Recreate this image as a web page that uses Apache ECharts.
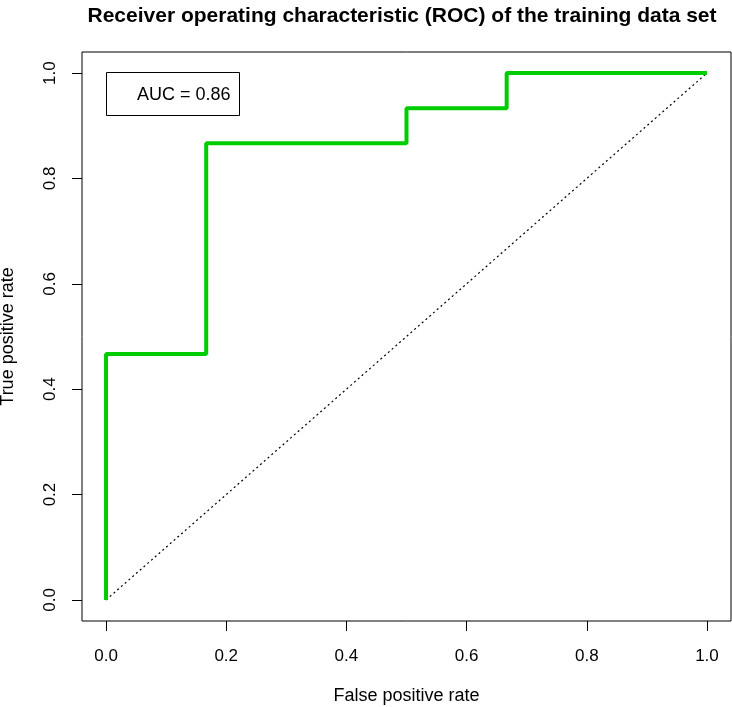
<!DOCTYPE html>
<html>
<head>
<meta charset="utf-8">
<script src="https://cdn.jsdelivr.net/npm/echarts@6/dist/echarts.min.js"></script>
<style>
  html, body { margin: 0; padding: 0; background: #fff; }
  #chart { width: 732px; height: 707px; }
</style>
</head>
<body>
<div id="chart"></div>
<script>
// ROC curve points
const fpr = [0, 0, 0.1667, 0.1667, 0.5, 0.5, 0.6667, 0.6667, 1]
const tpr = [0, 0.4667, 0.4667, 0.8667, 0.8667, 0.9333, 0.9333, 1, 1]
const diagX = [0, 1]
const diagY = [0, 1]
const xTicks = [0, 0.2, 0.4, 0.6, 0.8, 1.0]
const yTicks = [0, 0.2, 0.4, 0.6, 0.8, 1.0]
const auc = '0.86'

const font = '"Liberation Sans", Arial, sans-serif'
const chart = echarts.init(document.getElementById('chart'))

const axisBase = {
  type: 'value',
  min: -0.04,
  max: 1.04,
  splitLine: { show: false },
  axisLine: { show: false, onZero: false },
  axisTick: { show: true, inside: false, length: 10, customValues: xTicks, lineStyle: { color: '#000', width: 1 } },
  axisLabel: { customValues: xTicks, color: '#000', fontSize: 17, fontFamily: font, formatter: v => v.toFixed(1) },
  nameLocation: 'middle',
  nameTextStyle: { color: '#000', fontSize: 18, fontFamily: font },
}

chart.setOption({
  animation: false,
  backgroundColor: '#fff',
  title: {
    text: 'Receiver operating characteristic (ROC) of the training data set',
    left: 397,
    top: 1,
    textAlign: 'center',
    textStyle: { fontSize: 21, fontWeight: 'bold', color: '#000', fontFamily: font },
  },
  grid: {
    left: 82, right: 1, top: 52, bottom: 86,
    containLabel: false, outerBoundsMode: 'none',
    show: true, borderColor: '#000', borderWidth: 1,
  },
  xAxis: {
    ...axisBase,
    name: 'False positive rate',
    nameGap: 66,
    axisLabel: { ...axisBase.axisLabel, margin: 27 },
  },
  yAxis: {
    ...axisBase,
    name: 'True positive rate',
    nameGap: 65,
    nameRotate: 90,
    axisTick: { ...axisBase.axisTick, customValues: yTicks },
    axisLabel: { ...axisBase.axisLabel, customValues: yTicks, rotate: 90, margin: 23 },
  },
  graphic: [
    {
      type: 'rect',
      shape: { x: 106.5, y: 72.5, width: 133, height: 43 },
      style: { fill: '#fff', stroke: '#000', lineWidth: 1 },
      z: 100,
    },
    {
      type: 'text',
      x: 137, y: 95,
      style: { text: 'AUC = ' + auc, fill: '#000', font: '18px ' + font, textVerticalAlign: 'middle' },
      z: 101,
    },
  ],
  series: [
    {
      type: 'line',
      data: diagX.map((x, i) => [x, diagY[i]]),
      showSymbol: false,
      lineStyle: { color: '#000', width: 1.2, type: [2, 3] },
    },
    {
      type: 'line',
      data: fpr.map((x, i) => [x, tpr[i]]),
      showSymbol: false,
      lineStyle: { color: '#00CD00', width: 4 },
    },
  ],
})
</script>
</body>
</html>
